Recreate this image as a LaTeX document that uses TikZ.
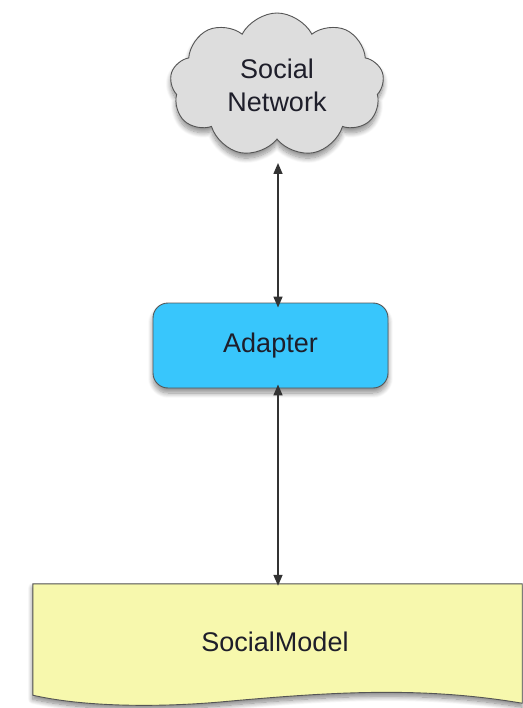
\documentclass[tikz,border=0pt]{standalone}
\usepackage{fontspec}
\setmainfont{Liberation Sans}
\usetikzlibrary{shapes.symbols,arrows.meta,shadows.blur,calc}
\definecolor{cloudgray}{HTML}{DDDDDD}
\definecolor{adapterblue}{HTML}{38C6FC}
\definecolor{docyellow}{HTML}{F7F8AD}
\definecolor{edgegray}{HTML}{555555}
\definecolor{txt}{HTML}{1E1E2A}
\tikzset{
  shad/.style={blur shadow={shadow xshift=0pt, shadow yshift=-5pt, shadow blur steps=10, shadow blur radius=5pt, shadow opacity=45}},
  cloudbox/.style={shape=cloud, cloud puffs=9, cloud puff arc=125, aspect=1.5, draw=edgegray, line width=0.9pt, fill=cloudgray, minimum width=214pt, minimum height=144pt, inner sep=0pt, align=center, font=\fontsize{27}{33}\selectfont, text=txt, shad},
  adapterbox/.style={rectangle, rounded corners=15pt, draw=edgegray, line width=0.9pt, fill=adapterblue, minimum width=235pt, minimum height=85pt, font=\fontsize{27}{30}\selectfont, text=txt, shad},
  docbox/.style={rectangle, draw=none, minimum width=489pt, minimum height=111pt},
  doclabel/.style={font=\fontsize{27}{30}\selectfont, text=txt},
  link/.style={draw=black!80, line width=1.5pt, {Triangle[length=11pt,width=9pt]}-{Triangle[length=11pt,width=9pt]}},
}
\begin{document}
\begin{tikzpicture}[x=1pt,y=-1pt]
\useasboundingbox (0,0) rectangle (522,708);
% document shape
\node[docbox] (doc) at (277.5,639.5) {};
\fill[black, opacity=0.25, blur shadow={shadow xshift=0pt, shadow yshift=-4pt, shadow blur steps=10, shadow blur radius=5pt, shadow opacity=50}]
  (doc.north west) -- (doc.north east) -- ([yshift=-8pt]doc.south east)
  .. controls (420,686) and (330,692) .. (220,702)
  .. controls (150,708) and (80,706) .. (doc.south west) -- cycle;
\draw[draw=edgegray, line width=0.9pt, fill=docyellow]
  (doc.north west) -- (doc.north east) -- ([yshift=-8pt]doc.south east)
  .. controls (420,686) and (330,692) .. (220,702)
  .. controls (150,708) and (80,706) .. (doc.south west) -- cycle;
\node[doclabel] (doctext) at (275,642) {SocialModel};
% cloud
\node[cloudbox] (cloud) at (277,85) {Social\\Network};
% adapter
\node[adapterbox] (adapter) at (270.5,345.5) {Adapter};
% connectors
\coordinate (ax) at (278,0);
\draw[link] ($(cloud.center -| ax)+(0,78)$) -- ([yshift=-5pt]adapter.north -| ax);
\draw[link] ([yshift=4pt]adapter.south -| ax) -- ([yshift=-2pt]doc.north -| ax);
\end{tikzpicture}
\end{document}
